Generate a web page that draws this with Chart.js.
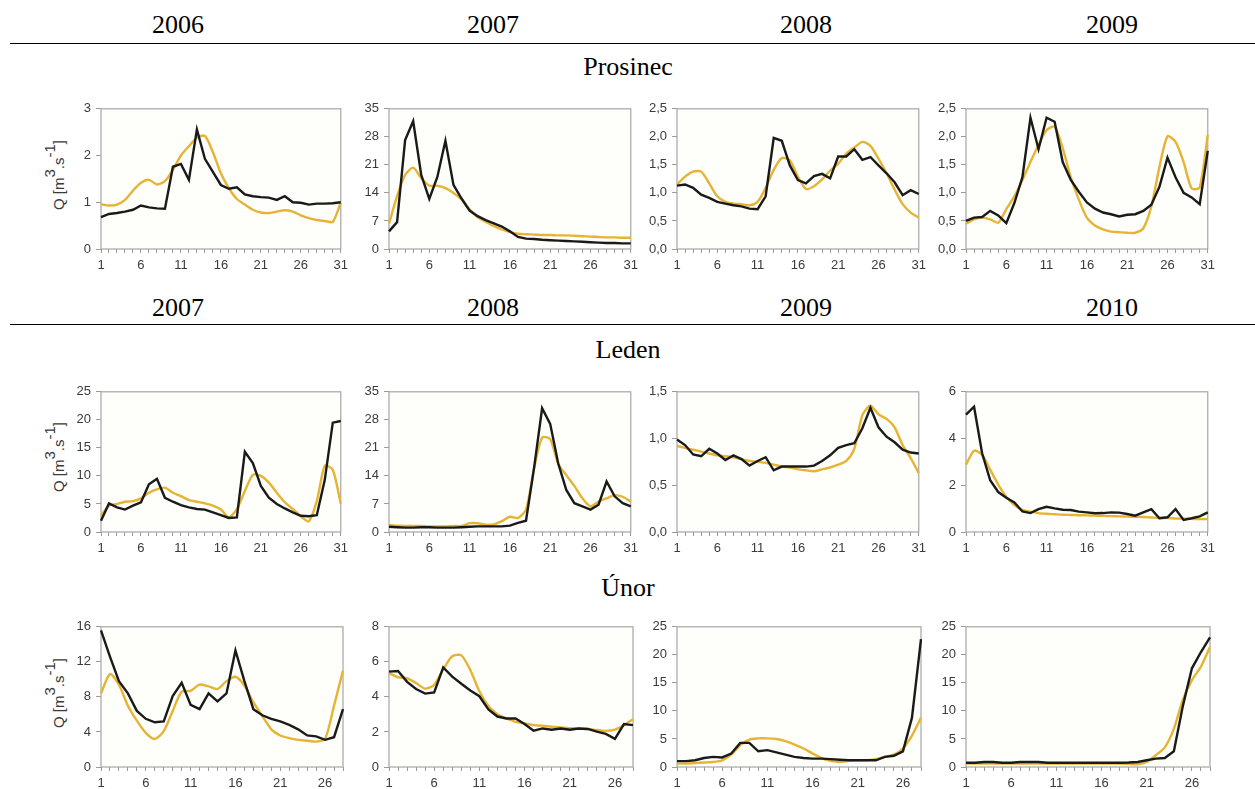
<!DOCTYPE html>
<html>
<head>
<meta charset="utf-8">
<script src="https://cdn.jsdelivr.net/npm/chart.js@4"></script>
<style>
body { margin: 0; background: #fff; }
#page { position: relative; width: 1255px; height: 789px; overflow: hidden; }
.head { position: absolute; font-family: 'Liberation Serif', serif; font-size: 26px; color: #000; transform: translate(-50%, -50%); white-space: nowrap; }
.rule { position: absolute; left: 10px; width: 1245px; height: 0; border-top: 1.5px solid #000; }
.ytitle { position: absolute; font-family: 'Liberation Sans', Arial, sans-serif; font-size: 15px; color: #3a3a3a; transform: translate(-50%, -50%) rotate(-90deg); white-space: nowrap; }
.ytitle sup { font-size: 1em; vertical-align: 0.6em; line-height: 0; }
canvas { position: absolute; }
</style>
</head>
<body>
<div id="page">
  <div class="head" style="left:178px;top:25px">2006</div>
  <div class="head" style="left:493px;top:25px">2007</div>
  <div class="head" style="left:806px;top:25px">2008</div>
  <div class="head" style="left:1112px;top:25px">2009</div>
  <div class="rule" style="top:43px"></div>
  <div class="head" style="left:628px;top:67px">Prosinec</div>

  <div class="head" style="left:178px;top:308px">2007</div>
  <div class="head" style="left:493px;top:308px">2008</div>
  <div class="head" style="left:806px;top:308px">2009</div>
  <div class="head" style="left:1112px;top:308px">2010</div>
  <div class="rule" style="top:324px"></div>
  <div class="head" style="left:628px;top:350px">Leden</div>

  <div class="head" style="left:628px;top:588px">Únor</div>

  <div class="ytitle" style="left:58px;top:175px">Q [m<sup>3</sup>.s<sup>-1</sup>]</div>
  <div class="ytitle" style="left:58px;top:457px">Q [m<sup>3</sup>.s<sup>-1</sup>]</div>
  <div class="ytitle" style="left:58px;top:693px">Q [m<sup>3</sup>.s<sup>-1</sup>]</div>
</div>
<script>
const days31 = ['1','2','3','4','5','6','7','8','9','10','11','12','13','14','15','16','17','18','19','20','21','22','23','24','25','26','27','28','29','30','31'];
const days28 = ['1','2','3','4','5','6','7','8','9','10','11','12','13','14','15','16','17','18','19','20','21','22','23','24','25','26','27','28'];

// Prosinec (December)
const prosinec2006Obs = [0.68,0.75,0.77,0.80,0.84,0.93,0.89,0.87,0.86,1.76,1.82,1.48,2.56,1.93,1.65,1.37,1.29,1.32,1.17,1.13,1.11,1.10,1.05,1.13,1.00,0.99,0.95,0.97,0.97,0.98,1.00];
const prosinec2006Sim = [0.96,0.93,0.95,1.05,1.25,1.42,1.48,1.38,1.45,1.70,2.00,2.20,2.38,2.42,2.07,1.62,1.30,1.07,0.95,0.84,0.78,0.77,0.80,0.83,0.80,0.72,0.66,0.62,0.60,0.58,0.99];
const prosinec2007Obs = [4.4,6.7,27.2,31.9,18.5,12.5,18.0,27.0,16.0,12.6,9.6,8.2,7.2,6.4,5.6,4.4,3.0,2.6,2.5,2.3,2.2,2.1,2.0,1.9,1.8,1.7,1.6,1.5,1.5,1.4,1.4];
const prosinec2007Sim = [6.3,13.2,18.5,20.3,17.7,15.8,15.8,15.2,14.0,12.4,9.9,7.9,6.8,5.7,4.9,4.2,3.8,3.7,3.6,3.5,3.5,3.4,3.4,3.3,3.2,3.1,3.0,2.9,2.9,2.8,2.8];
const prosinec2008Obs = [1.13,1.15,1.09,0.97,0.91,0.84,0.81,0.78,0.76,0.72,0.71,0.94,1.98,1.93,1.49,1.23,1.17,1.30,1.34,1.26,1.65,1.65,1.78,1.59,1.64,1.49,1.35,1.19,0.96,1.05,0.98];
const prosinec2008Sim = [1.15,1.29,1.38,1.38,1.17,0.94,0.84,0.81,0.80,0.78,0.84,1.09,1.41,1.62,1.58,1.29,1.07,1.12,1.24,1.40,1.52,1.70,1.81,1.91,1.84,1.61,1.35,1.06,0.80,0.65,0.56];
const prosinec2009Obs = [0.50,0.56,0.57,0.68,0.60,0.46,0.82,1.28,2.34,1.78,2.34,2.27,1.55,1.23,1.02,0.83,0.72,0.65,0.62,0.58,0.61,0.62,0.68,0.79,1.11,1.63,1.28,1.00,0.92,0.80,1.75];
const prosinec2009Sim = [0.45,0.53,0.56,0.53,0.47,0.71,0.94,1.23,1.55,1.86,2.12,2.18,1.80,1.28,0.88,0.56,0.42,0.35,0.31,0.30,0.29,0.29,0.37,0.76,1.46,2.01,1.91,1.55,1.08,1.10,2.04];

// Leden (January)
const leden2007Obs = [2.0,5.1,4.4,4.0,4.7,5.3,8.5,9.5,6.1,5.4,4.8,4.4,4.1,4.0,3.5,3.0,2.5,2.6,14.3,12.3,8.2,6.1,5.0,4.2,3.5,2.9,2.8,3.0,9.3,19.5,19.8];
const leden2007Sim = [2.9,4.7,5.0,5.4,5.5,6.0,7.0,7.6,7.9,7.0,6.4,5.7,5.4,5.1,4.7,4.0,2.6,4.1,7.3,10.2,10.0,8.8,7.0,5.3,4.1,2.8,1.9,5.5,11.8,11.1,5.0];
const leden2008Obs = [1.3,1.2,1.1,1.1,1.2,1.2,1.1,1.1,1.1,1.2,1.3,1.4,1.4,1.4,1.4,1.6,2.3,2.8,16.0,30.9,27.0,17.1,10.5,7.2,6.4,5.6,6.8,12.6,8.9,7.2,6.4];
const leden2008Sim = [1.7,1.6,1.5,1.5,1.5,1.4,1.4,1.4,1.5,1.5,2.2,2.2,1.8,1.9,2.7,3.8,3.5,5.6,15.8,23.6,23.2,17.0,14.2,11.5,8.4,6.4,7.6,8.4,9.2,8.8,7.6];
const leden2009Obs = [0.99,0.93,0.83,0.81,0.89,0.84,0.77,0.82,0.78,0.71,0.76,0.80,0.66,0.70,0.70,0.70,0.70,0.71,0.76,0.82,0.90,0.93,0.95,1.11,1.33,1.12,1.02,0.96,0.88,0.85,0.84];
const leden2009Sim = [0.92,0.90,0.88,0.86,0.84,0.82,0.81,0.80,0.78,0.76,0.75,0.74,0.72,0.70,0.69,0.67,0.66,0.65,0.67,0.69,0.72,0.76,0.89,1.25,1.35,1.26,1.21,1.12,0.93,0.79,0.63];
const leden2010Obs = [5.02,5.36,3.37,2.22,1.71,1.47,1.26,0.88,0.81,0.98,1.08,1.01,0.95,0.94,0.87,0.84,0.80,0.81,0.84,0.83,0.77,0.70,0.84,0.98,0.59,0.63,0.98,0.52,0.59,0.67,0.84];
const leden2010Sim = [2.88,3.48,3.30,2.67,2.03,1.51,1.15,0.95,0.87,0.81,0.78,0.76,0.74,0.73,0.72,0.71,0.70,0.69,0.68,0.67,0.66,0.65,0.64,0.62,0.60,0.60,0.58,0.57,0.56,0.55,0.55];

// Únor (February)
const unor2007Obs = [15.6,12.6,9.8,8.4,6.4,5.5,5.1,5.2,8.1,9.6,7.1,6.6,8.4,7.5,8.4,13.3,9.8,6.6,5.9,5.5,5.2,4.8,4.3,3.6,3.5,3.1,3.4,6.6];
const unor2007Sim = [8.4,10.6,9.4,7.0,5.3,3.9,3.2,4.1,6.4,8.6,8.7,9.4,9.2,8.9,9.8,10.3,9.3,7.4,5.8,4.3,3.6,3.3,3.1,3.0,2.9,3.2,7.0,11.0];
const unor2008Obs = [5.44,5.48,4.86,4.45,4.19,4.26,5.68,5.16,4.75,4.37,4.04,3.29,2.88,2.77,2.77,2.45,2.07,2.20,2.13,2.20,2.13,2.20,2.17,2.02,1.89,1.61,2.45,2.39];
const unor2008Sim = [5.35,5.12,5.06,4.79,4.47,4.69,5.57,6.32,6.37,5.53,4.32,3.48,3.01,2.77,2.58,2.49,2.39,2.36,2.30,2.26,2.22,2.20,2.17,2.11,2.06,2.13,2.39,2.73];
const unor2009Obs = [1.05,1.05,1.2,1.6,1.8,1.7,2.4,4.3,4.3,2.8,3.0,2.6,2.2,1.8,1.6,1.5,1.5,1.4,1.3,1.2,1.2,1.2,1.2,1.8,2.0,2.8,8.8,22.8];
const unor2009Sim = [0.6,0.6,0.7,0.8,0.9,1.2,2.2,3.9,4.9,5.1,5.1,5.0,4.6,4.0,3.3,2.4,1.6,1.1,0.9,1.1,1.2,1.2,1.4,1.8,2.2,3.3,5.6,8.8];
const unor2010Obs = [0.75,0.75,0.9,0.9,0.75,0.75,0.9,0.9,0.9,0.75,0.75,0.75,0.75,0.75,0.75,0.75,0.75,0.75,0.8,0.9,1.2,1.5,1.6,2.8,10.9,17.6,20.5,23.1];
const unor2010Sim = [0.6,0.6,0.6,0.6,0.6,0.6,0.6,0.6,0.6,0.6,0.6,0.6,0.6,0.6,0.6,0.6,0.6,0.6,0.55,0.5,0.9,2.1,3.5,6.8,12.0,15.5,17.9,21.4];

// y axis of each panel, row by row
const yMax  = [3, 35, 2.5, 2.5,   25, 35, 1.5, 6,   16, 8, 25, 25];
const yStep = [1, 7, 0.5, 0.5,    5, 7, 0.5, 2,     4, 2, 5, 5];
const yDecimals = [0, 0, 1, 1,    0, 0, 1, 0,       0, 0, 0, 0];

const panels = [
  [days31, prosinec2006Obs, prosinec2006Sim], [days31, prosinec2007Obs, prosinec2007Sim],
  [days31, prosinec2008Obs, prosinec2008Sim], [days31, prosinec2009Obs, prosinec2009Sim],
  [days31, leden2007Obs, leden2007Sim], [days31, leden2008Obs, leden2008Sim],
  [days31, leden2009Obs, leden2009Sim], [days31, leden2010Obs, leden2010Sim],
  [days28, unor2007Obs, unor2007Sim], [days28, unor2008Obs, unor2008Sim],
  [days28, unor2009Obs, unor2009Sim], [days28, unor2010Obs, unor2010Sim]
];

// plot box edges on the page
const colLeft = [101, 389, 677, 966];
const colRight = [343, 633, 921, 1210];
const rowTop = [106, 389, 624];
const rowBottom = [249, 532, 767];

const BLACK = '#1a1a1a';
const YELLOW = '#e6b434';
const tickFont = { family: "'Liberation Sans', Arial, sans-serif", size: 13 };

const frame = {
  id: 'frame',
  beforeDraw(chart) {
    const {ctx, chartArea: a} = chart;
    ctx.save();
    ctx.fillStyle = '#fefefa';
    ctx.fillRect(a.left, a.top, a.width, a.height);
    ctx.restore();
  },
  beforeDatasetsDraw(chart) {
    const {ctx, chartArea: a} = chart;
    ctx.save();
    ctx.strokeStyle = '#a6a6a6';
    ctx.lineWidth = 1.2;
    ctx.strokeRect(a.left, a.top, a.width, a.height);
    ctx.restore();
  }
};

const page = document.getElementById('page');

function makePanel(i) {
  const [days, obs, sim] = panels[i];
  const row = Math.floor(i / 4), col = i % 4;
  const l = colLeft[col], r = colRight[col], t = rowTop[row], b = rowBottom[row];

  const canvas = document.createElement('canvas');
  canvas.width = (r - l) + 60;
  canvas.height = (b - t) + 40;
  canvas.style.left = (l - 50) + 'px';
  canvas.style.top = (t - 10) + 'px';
  page.appendChild(canvas);

  new Chart(canvas, {
    type: 'line',
    data: {
      labels: days,
      datasets: [
        { data: obs, borderColor: BLACK, borderWidth: 2.4, pointRadius: 0, tension: 0, order: 1 },
        { data: sim, borderColor: YELLOW, borderWidth: 2.4, pointRadius: 0, tension: 0.25, order: 2 }
      ]
    },
    options: {
      responsive: false,
      animation: false,
      devicePixelRatio: 1,
      layout: { padding: { left: 0, top: 10, right: 10, bottom: 0 } },
      plugins: { legend: { display: false }, tooltip: { enabled: false } },
      scales: {
        x: {
          grid: { drawOnChartArea: false, tickLength: 4, color: '#9a9a9a' },
          border: { display: false },
          ticks: {
            autoSkip: false, maxRotation: 0, padding: 5, color: '#3a3a3a', font: tickFont,
            callback(v, idx) { return idx % 5 === 0 ? this.getLabelForValue(v) : ''; }
          },
          afterFit(s) { s.height = 30; }
        },
        y: {
          min: 0, max: yMax[i],
          grid: { drawOnChartArea: false, tickLength: 5, color: '#9a9a9a' },
          border: { display: false },
          ticks: {
            stepSize: yStep[i], autoSkip: false, padding: 5, color: '#3a3a3a', font: tickFont,
            callback: v => yDecimals[i] ? v.toFixed(1).replace('.', ',') : String(v)
          },
          afterFit(s) { s.width = 50; }
        }
      }
    },
    plugins: [frame]
  });
}

for (let i = 0; i < panels.length; i++) makePanel(i);
</script>
</body>
</html>
